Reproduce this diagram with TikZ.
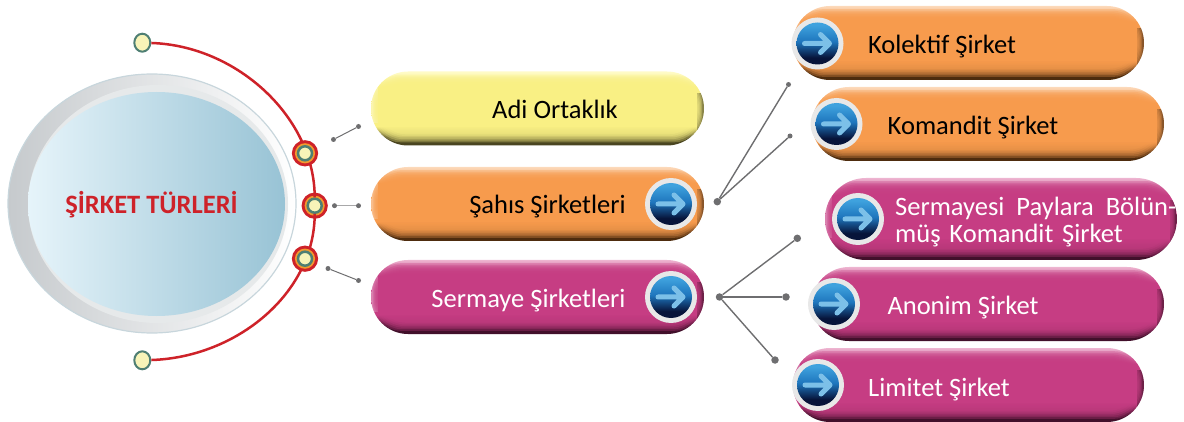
\documentclass[tikz,border=0pt]{standalone}
\usepackage{fontspec}
\setmainfont{Carlito}
\usetikzlibrary{shapes.misc,shapes.geometric}

\definecolor{sirketred}{HTML}{CE2229}
\definecolor{arcgreen}{HTML}{4F7F73}
\definecolor{dotcream}{HTML}{F8F4B8}
\definecolor{ringorange}{HTML}{F39A2E}
\definecolor{stickgray}{HTML}{6E6E70}
\definecolor{discgray}{HTML}{C6CACD}
\definecolor{discrim}{HTML}{C8D6DC}
\definecolor{discmid}{HTML}{E6E9EA}
\definecolor{discleft}{HTML}{E6F4FA}
\definecolor{disccentre}{HTML}{D0DDE2}
\definecolor{discright}{HTML}{98C3D5}
\definecolor{arrowblue}{HTML}{7CC0E8}
\definecolor{pyTop}{HTML}{FFFBC8}\definecolor{pyMid}{HTML}{F9F084}\definecolor{pyBot}{HTML}{4A4520}
\definecolor{poTop}{HTML}{FCD9BA}\definecolor{poMid}{HTML}{F79B4D}\definecolor{poBot}{HTML}{4E2C0E}
\definecolor{pmTop}{HTML}{EDB4D0}\definecolor{pmMid}{HTML}{C63D83}\definecolor{pmBot}{HTML}{42102B}
\pgfdeclareverticalshading{yellowpill}{100bp}{color(0bp)=(pyBot); color(25bp)=(pyBot); color(31bp)=(pyBot); color(38bp)=(pyMid); color(64bp)=(pyMid); color(75bp)=(pyTop); color(100bp)=(pyTop)}
\pgfdeclareverticalshading{orangepill}{100bp}{color(0bp)=(poBot); color(25bp)=(poBot); color(31bp)=(poBot); color(38bp)=(poMid); color(64bp)=(poMid); color(75bp)=(poTop); color(100bp)=(poTop)}
\pgfdeclareverticalshading{magentapill}{100bp}{color(0bp)=(pmBot); color(25bp)=(pmBot); color(31bp)=(pmBot); color(38bp)=(pmMid); color(64bp)=(pmMid); color(75bp)=(pmTop); color(100bp)=(pmTop)}
\definecolor{ballTop}{HTML}{3FA2DE}\definecolor{ballMid}{HTML}{1E75BC}\definecolor{ballBot}{HTML}{07143A}
\pgfdeclareverticalshading{ballshade}{100bp}{color(0bp)=(ballBot); color(33bp)=(ballBot); color(52bp)=(ballMid); color(72bp)=(ballTop); color(100bp)=(ballTop)}

\tikzset{
pill/.style n args={3}{rounded rectangle,minimum width=#1,minimum height=74pt,inner sep=0pt,shading=#2,
path picture={
\fill[black,opacity=.45] ([xshift=-7pt,yshift=-22pt]path picture bounding box.north east) rectangle (path picture bounding box.south east);
\fill[white,opacity=.35] ([yshift=-4pt]path picture bounding box.north west) rectangle ([xshift=7pt,yshift=22pt]path picture bounding box.south west);
\foreach \d in {2,3,4,5,6,7}
\fill[#3,opacity=.3,rounded corners=28pt] ([xshift=\d pt,yshift=1.6*\d pt]path picture bounding box.south west) rectangle ([xshift=-\d pt,yshift=-1.6*\d pt]path picture bounding box.north east);
}},
pilltext/.style={font=\fontsize{26.5}{27.7}\selectfont,inner sep=0pt,anchor=base},
stickdot/.style={circle,fill=stickgray,minimum size=5pt,inner sep=0pt},
fandot/.style={circle,fill=stickgray,minimum size=7.5pt,inner sep=0pt},
stick/.style={draw=stickgray,line width=1pt},
fan/.style={draw=stickgray,line width=1.4pt},
enddot/.style={ellipse,minimum width=16pt,minimum height=18pt,inner sep=0pt,fill=dotcream,draw=arcgreen,line width=2pt},
ringdot/.style={circle,minimum size=14pt,inner sep=0pt,fill=dotcream,draw=arcgreen,line width=2.5pt,preaction={draw=sirketred,line width=12pt},preaction={draw=ringorange,line width=6pt}},
arrowbtn/.pic={
\node[circle,fill=gray!18,minimum size=52pt,inner sep=0pt] (-ring) at (0,0) {};
\node[circle,shading=ballshade,minimum size=42pt,inner sep=0pt] (-ball) at (0,0) {};
\draw[arrowblue,line width=5pt,line cap=round,line join=round] (-13,0) -- (11,0) (3,-9) -- (12,0) -- (3,9);
}
}

\begin{document}
\begin{tikzpicture}[x=1pt,y=-1pt]
\useasboundingbox (0,0) rectangle (1184,422);

% big disc
\node[ellipse,minimum width=288pt,minimum height=259pt,inner sep=0pt,left color=discgray,middle color=discgray!60!white,right color=white,draw=discrim,line width=1.2pt] (discOuter) at (152,203.5) {};
\node[ellipse,minimum width=260pt,minimum height=238pt,inner sep=0pt,fill=discmid] (discMid) at (158,204) {};
\node[ellipse,minimum width=257pt,minimum height=224pt,inner sep=0pt,left color=discleft,middle color=disccentre,right color=discright] (discInner) at (156.5,204) {};
\node[font=\bfseries\fontsize{26.5}{27}\selectfont,text=sirketred,inner sep=0pt,anchor=base] (sirketTurleri) at (151.5,214) {ŞİRKET TÜRLERİ};

% red arc
\node[enddot] (topDot) at (142.3,42.7) {};
\node[enddot] (botDot) at (142.3,360.3) {};
\node[ringdot] (midRing) at (314.7,205.7) {};
\draw[sirketred,line width=2.5pt] (topDot) .. controls +(95,3) and +(0,-88) .. (midRing);
\draw[sirketred,line width=2.5pt] (midRing) .. controls +(0,87) and +(95,-3) .. (botDot);
\node[ringdot] (upRing) at (305,153.3) {};
\node[ringdot] (lowRing) at (305,258.7) {};

% short sticks
\node[stickdot] (a1) at (333.5,139.5) {};
\node[stickdot] (a2) at (358.5,126.5) {};
\draw[stick] (a1) -- (a2);
\node[stickdot] (b1) at (334.5,205.7) {};
\node[stickdot] (b2) at (358.5,205.7) {};
\draw[stick,stickgray!60] (b1) -- (b2);
\node[stickdot] (c1) at (328,268.5) {};
\node[stickdot] (c2) at (358.5,280.5) {};
\draw[stick] (c1) -- (c2);

% middle pills
\node[pill={333pt}{yellowpill}{pyMid}] (adi) at (537.5,108.5) {};
\node[pilltext] (adiText) at (555,118.3) {Adi Ortaklık};
\node[pill={333pt}{orangepill}{poMid}] (sahis) at (537.5,204) {};
\node[pilltext] (sahisText) at (547.5,214) {Şahıs Şirketleri};
\pic (sahisBtn) at (671,204) {arrowbtn};
\node[pill={333pt}{magentapill}{pmMid}] (sermaye) at (537.5,297) {};
\node[pilltext,text=white] (sermayeText) at (528.5,307) {Sermaye Şirketleri};
\pic (sermayeBtn) at (671,297) {arrowbtn};

% right pills
\node[pill={351pt}{orangepill}{poMid}] (kolektif) at (968.5,43) {};
\node[pilltext] (kolektifText) at (942,54) {Kolektif Şirket};
\pic (kolektifBtn) at (817.5,43.5) {arrowbtn};
\node[pill={352pt}{orangepill}{poMid}] (komandit) at (988,124) {};
\node[pilltext] (komanditText) at (973,135) {Komandit Şirket};
\pic (komanditBtn) at (836.5,124) {arrowbtn};
\node[pill={352pt}{magentapill}{pmMid},minimum height=82pt] (paylara) at (1001,219) {};
\node[pilltext,text=white,text width=281pt,align=left,anchor=west] (paylaraText) at (895,222) {Sermayesi\hfill Paylara\hfill Bölün-\\müş Komandit Şirket};
\pic (paylaraBtn) at (858,219) {arrowbtn};
\node[pill={352pt}{magentapill}{pmMid}] (anonim) at (988,304) {};
\node[pilltext,text=white] (anonimText) at (963,315) {Anonim Şirket};
\pic (anonimBtn) at (834,304) {arrowbtn};
\node[pill={351pt}{magentapill}{pmMid}] (limitet) at (968.5,385) {};
\node[pilltext,text=white] (limitetText) at (939,396) {Limitet Şirket};
\pic (limitetBtn) at (818,385) {arrowbtn};

% fans
\node[fandot] (d0) at (717.3,201.7) {};
\node[stickdot] (d1) at (788.5,84.5) {};
\node[stickdot] (d2) at (790,136) {};
\draw[fan] (d0) -- (d1);
\draw[fan] (d0) -- (d2);
\node[fandot] (e0) at (719.5,297) {};
\node[fandot] (e1) at (797.3,238.3) {};
\node[fandot] (e2) at (786,297) {};
\node[fandot] (e3) at (775,360) {};
\draw[fan] (e0) -- (e1);
\draw[fan] (e0) -- (e2);
\draw[fan] (e0) -- (e3);
\end{tikzpicture}
\end{document}
